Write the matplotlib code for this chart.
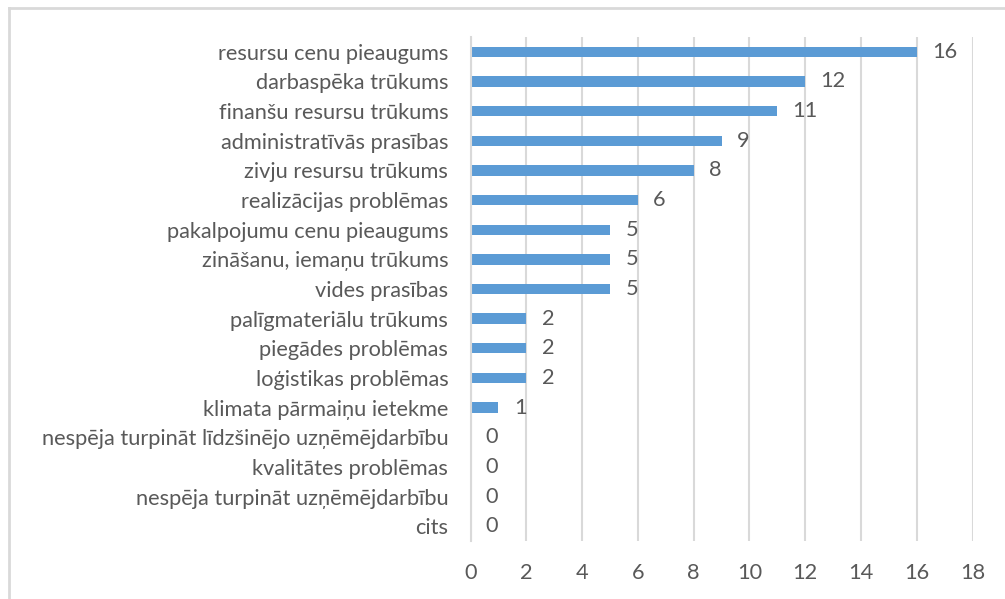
import matplotlib
matplotlib.use("Agg")
import matplotlib.pyplot as plt
from matplotlib.lines import Line2D

plt.rcParams['font.family'] = ['Lato', 'DejaVu Sans']

categories = ["resursu cenu pieaugums", "darbaspēka trūkums", "finanšu resursu trūkums",
              "administratīvās prasības", "zivju resursu trūkums", "realizācijas problēmas",
              "pakalpojumu cenu pieaugums", "zināšanu, iemaņu trūkums", "vides prasības",
              "palīgmateriālu trūkums", "piegādes problēmas", "loģistikas problēmas",
              "klimata pārmaiņu ietekme", "nespēja turpināt līdzšinējo uzņēmējdarbību",
              "kvalitātes problēmas", "nespēja turpināt uzņēmējdarbību", "cits"]
values = [16, 12, 11, 9, 8, 6, 5, 5, 5, 2, 2, 2, 1, 0, 0, 0, 0]
x_ticks = [0, 2, 4, 6, 8, 10, 12, 14, 16, 18]

text_col = "#595959"
grid_col = "#D9D9D9"
fs = 15.7

fig = plt.figure(figsize=(10.05, 5.99), dpi=100)
ax = fig.add_axes([0.4682, 0.0968, 0.4995, 0.8414])

ypos = list(range(len(categories)))[::-1]
ax.barh(ypos, values, height=0.35, color="#5B9BD5", zorder=3)

for y, v in zip(ypos, values):
    ax.annotate(str(v), xy=(v, y), xytext=(11, 0), textcoords="offset points",
                ha="left", va="center", fontsize=fs, color=text_col)

ax.set_xlim(0, 18)
ax.set_ylim(-0.5, len(categories) - 0.5)
ax.set_xticks(x_ticks)
ax.set_yticks(ypos)
ax.set_yticklabels(categories)
ax.tick_params(axis="y", length=0, pad=16, labelsize=fs, labelcolor=text_col)
ax.tick_params(axis="x", length=0, pad=16, labelsize=fs, labelcolor=text_col)
ax.grid(axis="x", color=grid_col, linewidth=1.5, zorder=0)
for s in ["top", "right", "bottom"]:
    ax.spines[s].set_visible(False)
ax.spines["left"].set_color(grid_col)
ax.spines["left"].set_linewidth(1.5)
ax.spines["left"].set_zorder(4)

# frame around the chart (only left and top edges visible)
fig.add_artist(Line2D([9 / 1005, 9 / 1005], [0, 1 - 8 / 599], transform=fig.transFigure,
                      color="#D9D9D9", linewidth=2))
fig.add_artist(Line2D([9 / 1005, 1], [1 - 8 / 599, 1 - 8 / 599], transform=fig.transFigure,
                      color="#D9D9D9", linewidth=2))

fig.savefig("out.png", dpi=100, facecolor="white")
